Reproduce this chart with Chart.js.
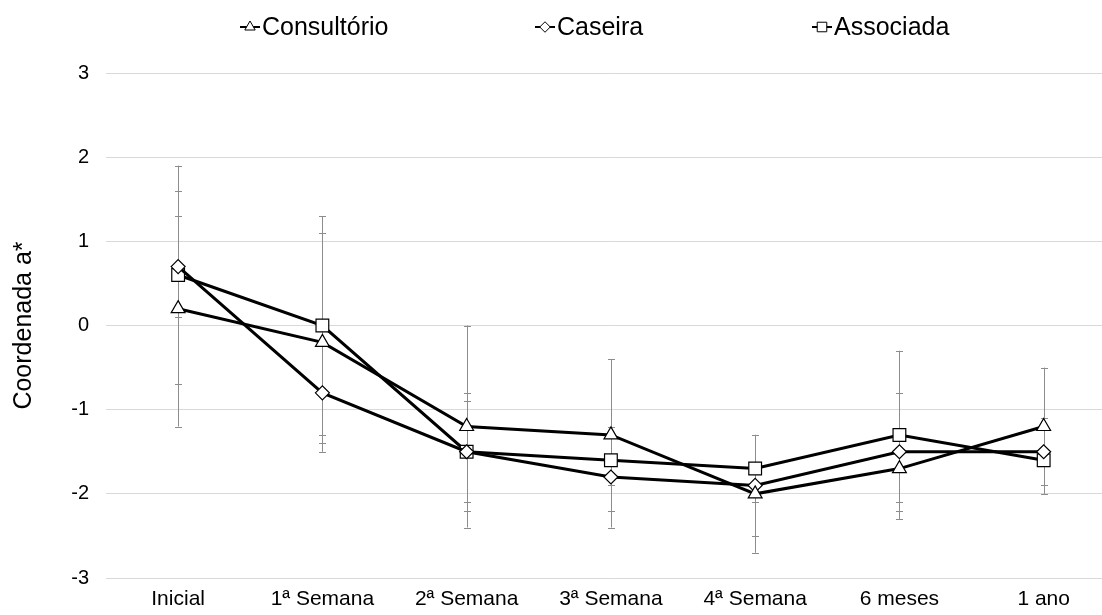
<!DOCTYPE html>
<html>
<head>
<meta charset="utf-8">
<script src="https://cdn.jsdelivr.net/npm/chart.js@4/dist/chart.umd.min.js"></script>
<style>
  html, body { margin: 0; padding: 0; background: #fff; overflow: hidden; }
  #wrap { width: 1126px; height: 615px; }
</style>
</head>
<body>
<div id="wrap"><canvas id="c" width="1126" height="615"></canvas></div>
<script>
// Time points
const categories = ['Inicial', '1ª Semana', '2ª Semana', '3ª Semana', '4ª Semana', '6 meses', '1 ano'];

// Mean a* per group
const consultorio = [0.2, -0.2, -1.2, -1.3, -2.0, -1.7, -1.2];
const caseira     = [0.7, -0.8, -1.5, -1.8, -1.9, -1.5, -1.5];
const associada   = [0.6,  0.0, -1.5, -1.6, -1.7, -1.3, -1.6];

// Standard deviations (error bars)
const sdConsultorio = [1.4, 1.3, 1.2, 0.9, 0.7, 0.4, 0.7];
const sdCaseira     = [0.6, 0.6, 0.7, 0.6, 0.6, 0.7, 0.4];
const sdAssociada   = [1.3, 1.3, 0.6, 0.3, 0.4, 1.0, 0.4];

// Y axis ticks
const yTicks = [-3, -2, -1, 0, 1, 2, 3];

const FONT = "'Liberation Sans', Arial, sans-serif";

const errorBars = {
  id: 'errorBars',
  beforeDatasetsDraw(chart) {
    const ctx = chart.ctx;
    const y = chart.scales.y;
    ctx.save();
    ctx.strokeStyle = '#8c8c8c';
    ctx.lineWidth = 1;
    chart.data.datasets.forEach((ds, i) => {
      const meta = chart.getDatasetMeta(i);
      meta.data.forEach((pt, j) => {
        const m = ds.data[j], s = ds.sd[j];
        const top = y.getPixelForValue(m + s);
        const bot = y.getPixelForValue(m - s);
        const x = Math.round(pt.x) + 0.5;
        ctx.beginPath();
        ctx.moveTo(x, top); ctx.lineTo(x, bot);
        ctx.moveTo(x - 3.5, Math.round(top) + 0.5); ctx.lineTo(x + 3.5, Math.round(top) + 0.5);
        ctx.moveTo(x - 3.5, Math.round(bot) + 0.5); ctx.lineTo(x + 3.5, Math.round(bot) + 0.5);
        ctx.stroke();
      });
    });
    ctx.restore();
  }
};

// Legend row above the plot: short line with marker, then the label
const topLegend = {
  id: 'topLegend',
  afterDraw(chart) {
    const ctx = chart.ctx;
    const starts = [240, 535, 812];
    const cy = 27;
    ctx.save();
    chart.data.datasets.forEach((ds, i) => {
      const x0 = starts[i];
      ctx.strokeStyle = '#000';
      ctx.lineWidth = 2;
      ctx.beginPath();
      ctx.moveTo(x0, cy); ctx.lineTo(x0 + 20, cy);
      ctx.stroke();
      ctx.fillStyle = '#fff';
      ctx.strokeStyle = '#000';
      ctx.lineWidth = 1;
      Chart.helpers.drawPoint(ctx, {
        pointStyle: ds.pointStyle, radius: ds.pointRadius * 0.75, borderWidth: 1
      }, x0 + 10, cy);
      ctx.fillStyle = '#000';
      ctx.font = '25px ' + FONT;
      ctx.textBaseline = 'middle';
      ctx.textAlign = 'left';
      ctx.fillText(ds.label, x0 + 22, cy + 1);
    });
    ctx.restore();
  }
};

function series(label, data, sd, style, r) {
  return {
    label, data, sd,
    borderColor: '#000', borderWidth: 3,
    pointStyle: style, pointRadius: r, pointHoverRadius: r,
    pointBackgroundColor: '#fff', pointBorderColor: '#000', pointBorderWidth: 1.2,
    tension: 0, fill: false
  };
}

new Chart(document.getElementById('c'), {
  type: 'line',
  data: {
    labels: categories,
    datasets: [
      series('Consultório', consultorio, sdConsultorio, 'triangle', 8),
      series('Caseira', caseira, sdCaseira, 'rectRot', 7),
      series('Associada', associada, sdAssociada, 'rect', 9)
    ]
  },
  options: {
    responsive: false,
    animation: false,
    layout: { padding: { top: 73, right: 5, left: 0, bottom: 0 } },
    plugins: { legend: { display: false }, tooltip: { enabled: false } },
    scales: {
      x: {
        offset: true,
        grid: { display: false, drawTicks: false },
        border: { display: false },
        ticks: { color: '#000', font: { family: FONT, size: 21 }, padding: 9, maxRotation: 0, autoSkip: false },
        afterFit(s) { s.height = 37; }
      },
      y: {
        min: -3, max: 3,
        afterBuildTicks(s) { s.ticks = yTicks.map(v => ({ value: v })); },
        grid: { color: '#d9d9d9', lineWidth: 1, drawTicks: false },
        border: { display: false },
        ticks: { color: '#000', font: { family: FONT, size: 20 }, padding: 17 },
        title: { display: true, text: 'Coordenada a*', color: '#000', font: { family: FONT, size: 25 }, padding: { top: 9, bottom: 0 } },
        afterFit(s) { s.width = 106; }
      }
    }
  },
  plugins: [errorBars, topLegend]
});
</script>
</body>
</html>
